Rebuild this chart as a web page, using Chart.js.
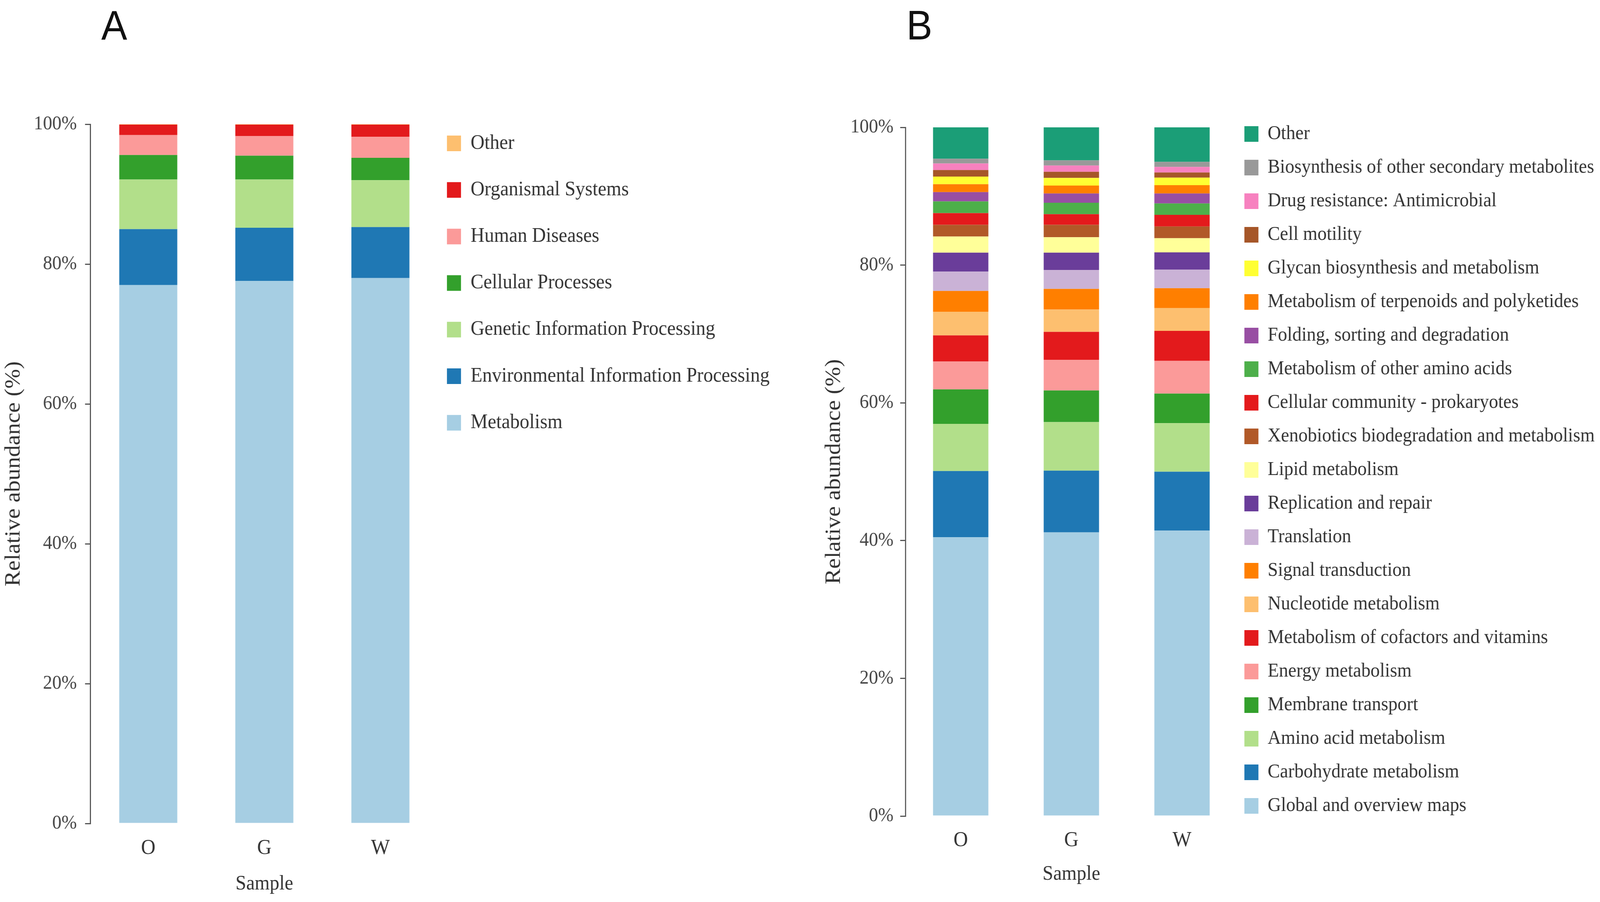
<!DOCTYPE html>
<html>
<head>
<meta charset="utf-8">
<script src="https://cdn.jsdelivr.net/npm/chart.js@4.4.1/dist/chart.umd.min.js"></script>
<style>
  html, body { margin: 0; padding: 0; background: #fff; overflow: hidden; }
  #frame { position: relative; width: 4328px; height: 2309px; overflow: hidden; background: #fff; }
  #page { position: absolute; left: 0; top: 0; width: 4328px; height: 2309px; background: #fff; transform-origin: 0 0; }
  canvas { position: absolute; top: 0; }
  #chartA { left: 0; }
  #chartB { left: 2200px; }
  .panel-tag { position: absolute; top: 12px; font-family: "Liberation Sans", Arial, sans-serif; font-size: 105px; line-height: 1; color: #111; }
</style>
</head>
<body>
<div id="frame">
  <div id="page">
    <div class="panel-tag" style="left:274px">A</div>
    <div class="panel-tag" style="left:2452px">B</div>
    <canvas id="chartA" width="2200" height="2309"></canvas>
    <canvas id="chartB" width="2128" height="2309"></canvas>
  </div>
</div>
<script>
var samples = ['O', 'G', 'W'];

// KEGG level 1, listed bottom of the stack first
var level1Names = ['Metabolism', 'Environmental Information Processing', 'Genetic Information Processing',
  'Cellular Processes', 'Human Diseases', 'Organismal Systems', 'Other'];
var level1O = [77.0, 8.0, 7.1, 3.5, 2.85, 1.5, 0.05];
var level1G = [77.6, 7.6, 6.9, 3.4, 2.8, 1.65, 0.05];
var level1W = [78.0, 7.3, 6.7, 3.2, 3.0, 1.75, 0.05];
var level1Colors = ['#A6CEE3', '#1F78B4', '#B2DF8A', '#33A02C', '#FB9A99', '#E31A1C', '#FDBF6F'];

// KEGG level 2, listed bottom of the stack first
var level2Names = ['Global and overview maps', 'Carbohydrate metabolism', 'Amino acid metabolism',
  'Membrane transport', 'Energy metabolism', 'Metabolism of cofactors and vitamins', 'Nucleotide metabolism',
  'Signal transduction', 'Translation', 'Replication and repair', 'Lipid metabolism',
  'Xenobiotics biodegradation and metabolism', 'Cellular community - prokaryotes',
  'Metabolism of other amino acids', 'Folding, sorting and degradation',
  'Metabolism of terpenoids and polyketides', 'Glycan biosynthesis and metabolism', 'Cell motility',
  'Drug resistance: Antimicrobial', 'Biosynthesis of other secondary metabolites', 'Other'];
var level2O = [40.5, 9.6, 6.85, 5.0, 4.05, 3.8, 3.4, 3.05, 2.8, 2.75, 2.35, 1.7, 1.7, 1.7, 1.35, 1.15, 1.1, 0.95, 0.95, 0.7, 4.55];
var level2G = [41.2, 8.95, 7.05, 4.6, 4.45, 4.05, 3.25, 3.0, 2.75, 2.5, 2.25, 1.8, 1.55, 1.65, 1.35, 1.15, 1.1, 0.9, 0.9, 0.75, 4.8];
var level2W = [41.45, 8.55, 7.05, 4.3, 4.75, 4.35, 3.3, 2.9, 2.7, 2.5, 2.05, 1.7, 1.7, 1.65, 1.45, 1.2, 1.1, 0.75, 0.8, 0.75, 5.0];
var level2Colors = ['#A6CEE3', '#1F78B4', '#B2DF8A', '#33A02C', '#FB9A99', '#E31A1C', '#FDBF6F',
  '#FF7F00', '#CAB2D6', '#6A3D9A', '#FFFF99', '#B15928', '#E41A1C', '#4DAF4A', '#984EA3',
  '#FF7F00', '#FFFF33', '#A65628', '#F781BF', '#999999', '#1B9E77'];

var serif = "'Liberation Serif', 'Times New Roman', serif";
Chart.defaults.font.family = serif;
Chart.defaults.color = '#333';

// shifts the legend box up/down after layout
var legendNudge = {
  id: 'legendNudge',
  afterLayout: function (chart, args, opts) {
    var lg = chart.legend;
    if (lg && opts.dy) {
      lg.top += opts.dy;
      lg.bottom += opts.dy;
    }
  }
};

function widestText(names, size) {
  var ctx = document.createElement('canvas').getContext('2d');
  ctx.font = size + 'px ' + serif;
  return Math.max.apply(null, names.map(function (n) { return ctx.measureText(n).width; }));
}

function buildChart(canvasId, names, colors, columns, look) {
  var datasets = names.map(function (name, i) {
    return {
      label: name,
      data: columns.map(function (col) { return col[i]; }),
      backgroundColor: colors[i],
      borderWidth: 0,
      categoryPercentage: 1.0,
      barPercentage: 0.5
    };
  });

  // legend keeps its natural width; right padding is what is left over
  var boxW = 38;
  var legendWidth = Math.ceil(look.legendPad + boxW + look.legendSize / 2 + widestText(names, look.legendSize)) + 4;
  var canvas = document.getElementById(canvasId);
  var padding = {
    left: 0,
    top: look.top,
    bottom: look.bottom,
    right: Math.max(0, canvas.width - look.chartRight - legendWidth)
  };

  return new Chart(canvas, {
    type: 'bar',
    data: { labels: samples, datasets: datasets },
    plugins: [legendNudge],
    options: {
      responsive: false,
      animation: false,
      layout: { padding: padding },
      scales: {
        x: {
          stacked: true,
          grid: { display: false, drawTicks: false },
          border: { display: false },
          ticks: { padding: look.xTickPad, color: '#333', font: { size: 54 } },
          title: {
            display: true,
            text: 'Sample',
            color: '#333',
            font: { size: 52 },
            padding: { top: 0, bottom: look.xTitlePad }
          },
          afterFit: function (scale) { scale.height = 192; }
        },
        y: {
          stacked: true,
          min: 0,
          max: 100,
          ticks: {
            stepSize: 20,
            padding: look.yTickPad,
            color: '#444',
            font: { size: 50 },
            callback: function (v) { return v + '%'; }
          },
          grid: { display: true, drawOnChartArea: false, drawTicks: true, tickLength: 14, color: '#555', lineWidth: 3 },
          border: { display: true, color: '#555', width: 3 },
          title: {
            display: true,
            text: 'Relative abundance (%)',
            color: '#333',
            font: { size: 60 },
            padding: { top: look.yTitlePad, bottom: 0 }
          },
          afterFit: function (scale) { scale.width = look.yWidth; }
        }
      },
      plugins: {
        legendNudge: { dy: look.legendDy },
        tooltip: { enabled: false },
        legend: {
          position: 'right',
          align: 'start',
          reverse: true,
          maxWidth: legendWidth,
          labels: {
            boxWidth: boxW,
            boxHeight: 40,
            padding: look.legendPad,
            color: '#333',
            font: { size: look.legendSize, lineHeight: look.legendLine },
            generateLabels: function (chart) {
              // one-line arrays so the row height follows the font lineHeight
              return Chart.defaults.plugins.legend.labels.generateLabels(chart).map(function (item) {
                item.text = [item.text];
                return item;
              });
            }
          }
        }
      }
    }
  });
}

window.onload = function () {
  // stretch the 4328x2309 figure over the CSS viewport the browser actually gives us
  var sx = window.innerWidth / 4328;
  var sy = window.innerHeight / 2309;
  if (sx > 0.5 && sx < 1.5 && sy > 0.5 && sy < 1.5 && (sx !== 1 || sy !== 1)) {
    document.getElementById('page').style.transform = 'scale(' + sx + ',' + sy + ')';
    var frame = document.getElementById('frame');
    frame.style.width = window.innerWidth + 'px';
    frame.style.height = window.innerHeight + 'px';
  }

  buildChart('chartA', level1Names, level1Colors, [level1O, level1G, level1W], {
    top: 318,
    bottom: 9,
    chartRight: 1186,
    yWidth: 244,
    yTickPad: 22,
    yTitlePad: 1,
    xTickPad: 31,
    xTitlePad: 5,
    legendPad: 23,
    legendSize: 52,
    legendLine: 1.85,
    legendDy: 0
  });
  buildChart('chartB', level2Names, level2Colors, [level2O, level2G, level2W], {
    top: 326,
    bottom: 28,
    chartRight: 1147,
    yWidth: 249,
    yTickPad: 18,
    yTitlePad: 20,
    xTickPad: 30,
    xTitlePad: 11,
    legendPad: 19,
    legendSize: 50,
    legendLine: 1.34,
    legendDy: -27
  });
};
</script>
</body>
</html>
